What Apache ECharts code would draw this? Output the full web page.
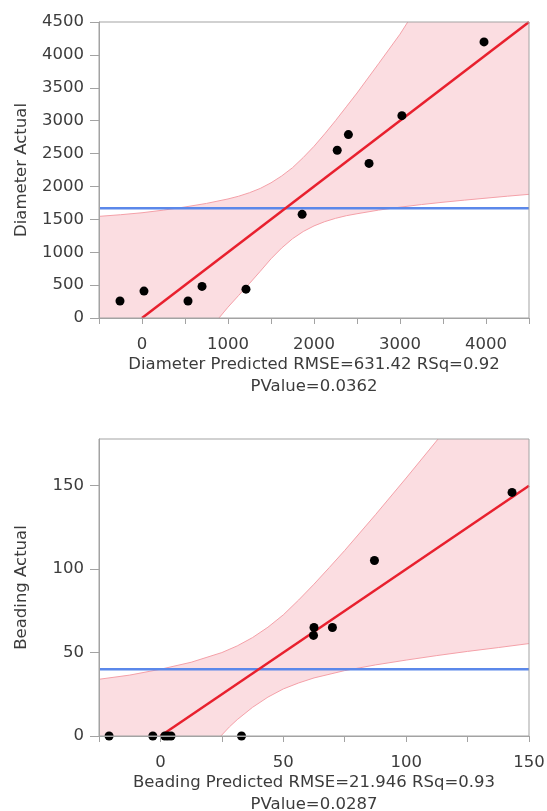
<!DOCTYPE html>
<html>
<head>
<meta charset="utf-8">
<script src="https://cdn.jsdelivr.net/npm/echarts@6/dist/echarts.min.js"></script>
<style>
  html, body { margin: 0; padding: 0; background: #fff; }
  #chart { width: 547px; height: 811px; }
</style>
</head>
<body>
<div id="chart"></div>
<script>
// Diameter: actual by predicted
var diaPredicted = [-256, 23, 535, 698, 1209, 1862, 2270, 2400, 2640, 3022, 3977];
var diaActual = [258, 409, 258, 480, 438, 1576, 2550, 2788, 2350, 3076, 4197];
var diaMeanX = [-500, 4500];
var diaMeanY = [1670, 1670];
var diaFitX = [0, 4500];
var diaFitY = [0, 4500];
var diaUpperX = [-500, -250, 0, 250, 500, 750, 1000, 1125, 1250, 1375, 1500, 1625, 1750, 1875, 2000, 2125, 2250, 2375, 2500, 2750, 3000, 3090];
var diaUpperY = [1545, 1570, 1600, 1640, 1688, 1742, 1810, 1852, 1905, 1970, 2055, 2160, 2285, 2440, 2610, 2800, 3000, 3210, 3420, 3865, 4315, 4500];
var diaLowerX = [895, 1000, 1125, 1250, 1375, 1500, 1625, 1750, 1875, 2000, 2125, 2250, 2375, 2500, 2750, 3000, 3250, 3500, 3750, 4000, 4250, 4500];
var diaLowerY = [0, 165, 345, 525, 710, 900, 1065, 1205, 1315, 1400, 1465, 1515, 1555, 1585, 1640, 1685, 1725, 1760, 1792, 1822, 1852, 1880];
var diaXTicks = [-500, 0, 500, 1000, 1500, 2000, 2500, 3000, 3500, 4000, 4500];
var diaXLabels = [0, 1000, 2000, 3000, 4000];
var diaYTicks = [0, 500, 1000, 1500, 2000, 2500, 3000, 3500, 4000, 4500];

// Beading: actual by predicted
var beaPredicted = [-20.9, -3.1, 1.8, 3.0, 4.3, 33.0, 62.5, 62.3, 70.0, 87.1, 143.1];
var beaActual = [0, 0, 0, 0, 0, 0, 65.0, 60.3, 65.0, 105.2, 146.0];
var beaMeanX = [-25, 150];
var beaMeanY = [40, 40];
var beaFitX = [0, 150];
var beaFitY = [0, 150];
var beaUpperX = [-25, -12.5, 0, 12.5, 25, 31.25, 37.5, 43.75, 50, 56.25, 62.5, 68.75, 75, 87.5, 100, 113];
var beaUpperY = [34, 36.5, 40, 44.2, 50, 54, 59, 65.2, 72.6, 81.5, 91, 101, 111.2, 132.6, 154.6, 178];
var beaLowerX = [24.6, 28.1, 31.25, 37.5, 43.75, 50, 56.25, 62.5, 75, 87.5, 100, 112.5, 125, 137.5, 150];
var beaLowerY = [0, 5.5, 9.8, 17.2, 23.3, 28.2, 31.8, 34.8, 39.2, 42.6, 45.5, 48.2, 50.7, 53, 55.4];
var beaXTicks = [-25, 0, 25, 50, 75, 100, 125, 150];
var beaXLabels = [0, 50, 100, 150];
var beaYTicks = [0, 50, 100, 150];

var font = "DejaVu Sans";
var textColor = "#3c3c3c";
var frameColor = "#a3a3a3";

function pairs(xs, ys) {
  return xs.map(function (x, i) {
    return [x, ys[i]];
  });
}

function plain(v) {
  return String(v);
}

function bandSeries(idx, upper, lower, cornerA, cornerB) {
  return {
    type: "custom",
    xAxisIndex: idx,
    yAxisIndex: idx,
    silent: true,
    z: 1,
    data: [[lower[1][0], lower[1][1]]],
    renderItem: function (params, api) {
      var pts = upper
        .concat([cornerA], lower.slice().reverse(), [cornerB])
        .map(function (p) {
          return api.coord(p);
        });
      return {
        type: "polygon",
        shape: { points: pts },
        style: { fill: "#fbdde1" },
      };
    },
  };
}

function lineSeries(idx, data, color, width, z) {
  return {
    type: "line",
    xAxisIndex: idx,
    yAxisIndex: idx,
    data: data,
    symbol: "none",
    silent: true,
    z: z,
    lineStyle: { color: color, width: width, opacity: 1 },
  };
}

function dotSeries(idx, data) {
  return {
    type: "scatter",
    xAxisIndex: idx,
    yAxisIndex: idx,
    data: data,
    symbolSize: 9,
    clip: true,
    silent: true,
    itemStyle: { color: "#000", opacity: 1 },
    z: 6,
  };
}

function xAxis(idx, min, max, step, ticks, labels, name) {
  return {
    type: "value",
    gridIndex: idx,
    min: min,
    max: max,
    interval: step,
    z: 10,
    name: name,
    nameLocation: "middle",
    nameGap: 35,
    nameTextStyle: { fontFamily: font, fontSize: 16.5, color: textColor, lineHeight: 22 },
    axisLine: { show: true, onZero: false, lineStyle: { color: frameColor, width: 1 } },
    axisTick: { show: true, length: 6, customValues: ticks, lineStyle: { color: frameColor } },
    axisLabel: { customValues: labels, formatter: plain, margin: 18, fontFamily: font, fontSize: 16.5, color: textColor },
    splitLine: { show: false },
  };
}

function yAxis(idx, min, max, step, ticks, name) {
  return {
    type: "value",
    gridIndex: idx,
    min: min,
    max: max,
    interval: step,
    z: 10,
    name: name,
    nameLocation: "middle",
    nameRotate: 90,
    nameGap: 69,
    nameTextStyle: { fontFamily: font, fontSize: 16.5, color: textColor },
    axisLine: { show: true, onZero: false, lineStyle: { color: frameColor, width: 1 } },
    axisTick: { show: true, length: 9, customValues: ticks, lineStyle: { color: frameColor } },
    axisLabel: { customValues: ticks, formatter: plain, margin: 15, fontFamily: font, fontSize: 16.5, color: textColor },
    splitLine: { show: false },
  };
}

var myChart = echarts.init(document.getElementById("chart"));
var option = {
  animation: false,
  backgroundColor: "#fff",
  grid: [
    { left: 99, top: 22, width: 430, height: 296, outerBoundsMode: "none", containLabel: false, show: true, z: 10, borderColor: frameColor, borderWidth: 1, backgroundColor: "transparent" },
    { left: 99, top: 439, width: 430, height: 297, outerBoundsMode: "none", containLabel: false, show: true, z: 10, borderColor: frameColor, borderWidth: 1, backgroundColor: "transparent" },
  ],
  xAxis: [
    xAxis(0, -500, 4500, 500, diaXTicks, diaXLabels, "Diameter Predicted RMSE=631.42 RSq=0.92\nPValue=0.0362"),
    xAxis(1, -25, 150, 25, beaXTicks, beaXLabels, "Beading Predicted RMSE=21.946 RSq=0.93\nPValue=0.0287"),
  ],
  yAxis: [
    yAxis(0, 0, 4500, 500, diaYTicks, "Diameter Actual"),
    yAxis(1, 0, 178, 50, beaYTicks, "Beading Actual"),
  ],
  series: [
    bandSeries(0, pairs(diaUpperX, diaUpperY), pairs(diaLowerX, diaLowerY), [4500, 4500], [-500, 0]),
    lineSeries(0, pairs(diaUpperX, diaUpperY), "#f4a0a8", 1, 3),
    lineSeries(0, pairs(diaLowerX, diaLowerY), "#f4a0a8", 1, 3),
    lineSeries(0, pairs(diaMeanX, diaMeanY), "#5b88ea", 2.5, 4),
    lineSeries(0, pairs(diaFitX, diaFitY), "#e8202e", 2.5, 5),
    dotSeries(0, pairs(diaPredicted, diaActual)),
    bandSeries(1, pairs(beaUpperX, beaUpperY), pairs(beaLowerX, beaLowerY), [150, 178], [-25, 0]),
    lineSeries(1, pairs(beaUpperX, beaUpperY), "#f4a0a8", 1, 3),
    lineSeries(1, pairs(beaLowerX, beaLowerY), "#f4a0a8", 1, 3),
    lineSeries(1, pairs(beaMeanX, beaMeanY), "#5b88ea", 2.5, 4),
    lineSeries(1, pairs(beaFitX, beaFitY), "#e8202e", 2.5, 5),
    dotSeries(1, pairs(beaPredicted, beaActual)),
  ],
};
myChart.setOption(option);
</script>
</body>
</html>
